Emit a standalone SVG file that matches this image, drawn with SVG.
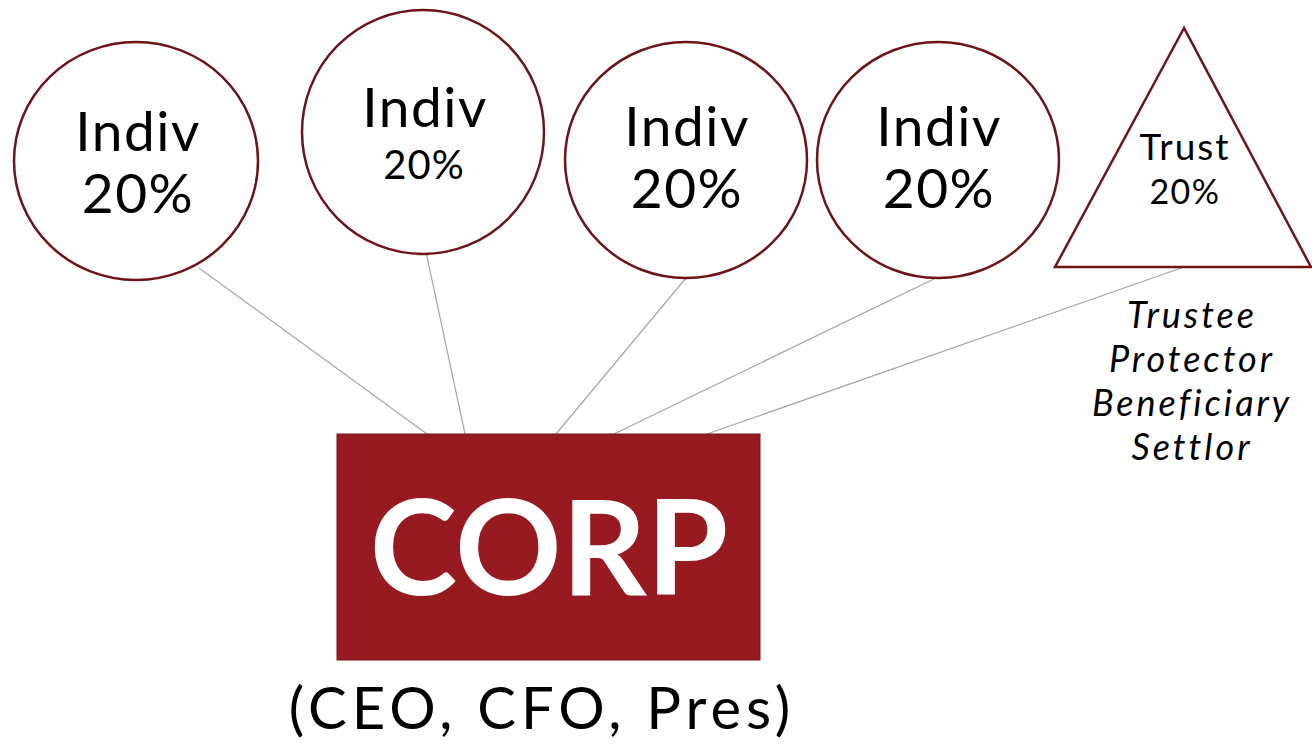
<svg xmlns="http://www.w3.org/2000/svg" width="1312" height="745" viewBox="0 0 1312 745">
  <style>
    .owner { fill: #ffffff; stroke: #6e1416; stroke-width: 2.5; }
    .lbl { font-family: Lato, "Noto Sans", sans-serif; fill: #000000; text-anchor: middle; }
    .big { font-size: 55px; letter-spacing: 1.5px; }
    .link { stroke: #a6a6a6; stroke-width: 1.2; fill: none; }
    .role { font-family: Lato, "Noto Sans", sans-serif; font-style: italic; font-size: 36px; letter-spacing: 3px; fill: #000000; text-anchor: middle; }
  </style>
  <rect width="1312" height="745" fill="#ffffff"/>

  <!-- ownership links -->
  <g id="connectors">
    <line class="link" x1="199" y1="268" x2="427" y2="434"/>
    <line class="link" x1="426" y1="252" x2="465" y2="434"/>
    <line class="link" x1="686" y1="278" x2="556" y2="434"/>
    <line class="link" x1="938" y1="277" x2="614" y2="434"/>
    <line class="link" x1="1184" y1="267" x2="707" y2="434"/>
  </g>

  <g id="indiv1">
    <ellipse class="owner" cx="136" cy="161" rx="122" ry="119"/>
    <text class="lbl big" x="138" y="151">Indiv</text>
    <text class="lbl big" x="138" y="213">20%</text>
  </g>

  <g id="indiv2">
    <ellipse class="owner" cx="423" cy="132" rx="121" ry="122"/>
    <text class="lbl big" x="425" y="127">Indiv</text>
    <text class="lbl" x="424" y="179" font-size="40" letter-spacing="1">20%</text>
  </g>

  <g id="indiv3">
    <ellipse class="owner" cx="686" cy="160" rx="121" ry="118"/>
    <text class="lbl big" x="687" y="146">Indiv</text>
    <text class="lbl big" x="687" y="208">20%</text>
  </g>

  <g id="indiv4">
    <ellipse class="owner" cx="938" cy="160" rx="121" ry="118"/>
    <text class="lbl big" x="939" y="146">Indiv</text>
    <text class="lbl big" x="939" y="208">20%</text>
  </g>

  <g id="trust">
    <polygon class="owner" points="1184,28 1055,267 1311,267"/>
    <text class="lbl" x="1185" y="160" font-size="37" letter-spacing="2">Trust</text>
    <text class="lbl" x="1185" y="204" font-size="34" letter-spacing="1.5">20%</text>
    <text class="role" x="1192" y="328">Trustee</text>
    <text class="role" x="1192" y="372">Protector</text>
    <text class="role" x="1192" y="416">Beneficiary</text>
    <text class="role" x="1192" y="460">Settlor</text>
  </g>

  <g id="corp">
    <rect x="337" y="434" width="423" height="226" fill="#961a1f" stroke="#7a1418" stroke-width="1"/>
    <text x="549" y="595" font-family="Lato, 'Noto Sans', sans-serif" font-weight="bold" font-size="132" fill="#ffffff" text-anchor="middle">CORP</text>
    <text class="lbl" x="542" y="729" font-size="58" letter-spacing="5">(CEO, CFO, Pres)</text>
  </g>
</svg>
